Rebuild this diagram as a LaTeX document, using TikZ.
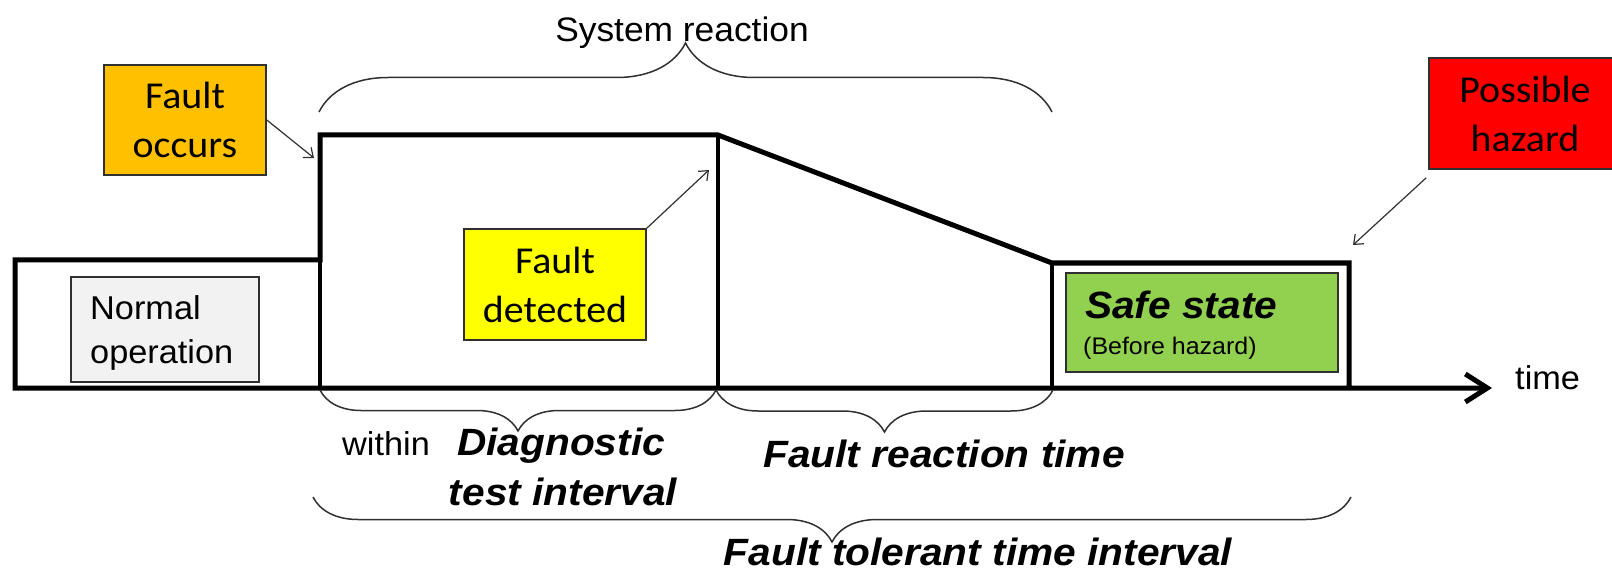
\documentclass[tikz,border=0pt]{standalone}
\usepackage{fontspec}
\setmainfont{Liberation Sans}
\newfontfamily\calibfont{Carlito}
\usetikzlibrary{arrows.meta,decorations.pathreplacing}
\definecolor{fOrange}{HTML}{FFC000}
\definecolor{fYellow}{HTML}{FFFF00}
\definecolor{fRed}{HTML}{FF0000}
\definecolor{fGreen}{HTML}{92D050}
\definecolor{nGray}{HTML}{F2F2F2}
\definecolor{edgeGray}{HTML}{303030}
\newcommand{\bxs}[1]{\scalebox{1.07}[1]{#1}}
\newcommand{\rxs}[1]{\scalebox{1.04}[1]{#1}}
\newcommand{\cxs}[1]{\scalebox{1.05}[1]{#1}}
\begin{document}
\begin{tikzpicture}[x=1pt,y=-1pt,
  mainline/.style={line width=5pt,line join=miter},
  partline/.style={line width=4pt},
  cbox/.style={draw=edgeGray,line width=1.6pt,inner sep=0pt,align=center,
    font=\calibfont\fontsize{38}{49}\selectfont},
  pbox/.style={draw=edgeGray,line width=1.6pt,inner sep=0pt},
  brc/.style={decorate,decoration={brace,amplitude=#1},line width=1.5pt,draw=edgeGray},
  thinarrow/.style={line width=1.2pt,draw=edgeGray,-{Straight Barb[length=8pt,width=13pt]}},
  plaintext/.style={font=\fontsize{33}{40}\selectfont,inner sep=0pt},
  boldtext/.style={font=\bfseries\itshape\fontsize{38}{46}\selectfont,inner sep=0pt}]
\useasboundingbox (0,0) rectangle (1612,572);

% main outline and time axis
\draw[mainline,-{Straight Barb[length=22pt,width=28pt]}]
  (1349,388) -- (1349,263) -- (1052,263) -- (718,135) -- (320,135) -- (320,260)
  -- (15,260) -- (15,388) -- (1492,388);
\draw[partline] (320,260) -- (320,388);
\draw[partline] (718,135) -- (718,388);
\draw[partline] (1052,263) -- (1052,388);

% boxes
\node[pbox,fill=nGray,minimum width=188pt,minimum height=105pt] (no) at (165,329.5) {};
\node[plaintext,anchor=base west] (noA) at (90,319) {\rxs{Normal}};
\node[plaintext,anchor=base west] (noB) at (90,363) {\rxs{operation}};

\node[cbox,fill=fOrange,minimum width=162pt,minimum height=110pt] (fo) at (185,120) {\cxs{Fault}\\\cxs{occurs}};
\node[cbox,fill=fYellow,minimum width=182pt,minimum height=111pt] (fd) at (555,284.5) {\cxs{Fault}\\\cxs{detected}};
\node[cbox,fill=fRed,minimum width=192pt,minimum height=111pt] (hz) at (1525,113.5) {\cxs{Possible}\\\cxs{hazard}};

\node[pbox,fill=fGreen,minimum width=272pt,minimum height=99pt] (ss) at (1202,322.5) {};
\node[boldtext,anchor=base west] (ssA) at (1085,318) {\bxs{Safe state}};
\node[font=\fontsize{24}{28}\selectfont,inner sep=0pt,anchor=base west] (ssB) at (1083,354) {\rxs{(Before hazard)}};

% arrows
\coordinate (foT) at (314,158);
\coordinate (fdT) at (709,170);
\coordinate (hzT) at (1353,245);
\draw[thinarrow] (fo.east) -- (foT);
\draw[thinarrow] (fd.north east) -- (fdT);
\draw[thinarrow] ([xshift=-2pt,yshift=-8pt]hz.south west) -- (hzT);

% braces
\draw[brc=69] (319,112) -- (1052,112);
\draw[brc=41] (716,390) -- (320,390);
\draw[brc=42] (1053,390) -- (716,390);
\draw[brc=45] (1351,497) -- (313,497);

% labels
\node[font=\fontsize{34}{40}\selectfont,inner sep=0pt,anchor=base] (sr) at (682,42) {\rxs{System reaction}};
\node[plaintext,anchor=base west] (wi) at (342,455) {\rxs{within}};
\node[boldtext,anchor=base] (dtA) at (561,455) {\bxs{Diagnostic}};
\node[boldtext,anchor=base] (dtB) at (563,505) {\bxs{test interval}};
\node[boldtext,anchor=base] (fr) at (944,467) {\bxs{Fault reaction time}};
\node[boldtext,anchor=base] (ft) at (978,565) {\bxs{Fault tolerant time interval}};
\node[plaintext,anchor=base west] (tm) at (1515,389) {\rxs{time}};
\end{tikzpicture}
\end{document}
